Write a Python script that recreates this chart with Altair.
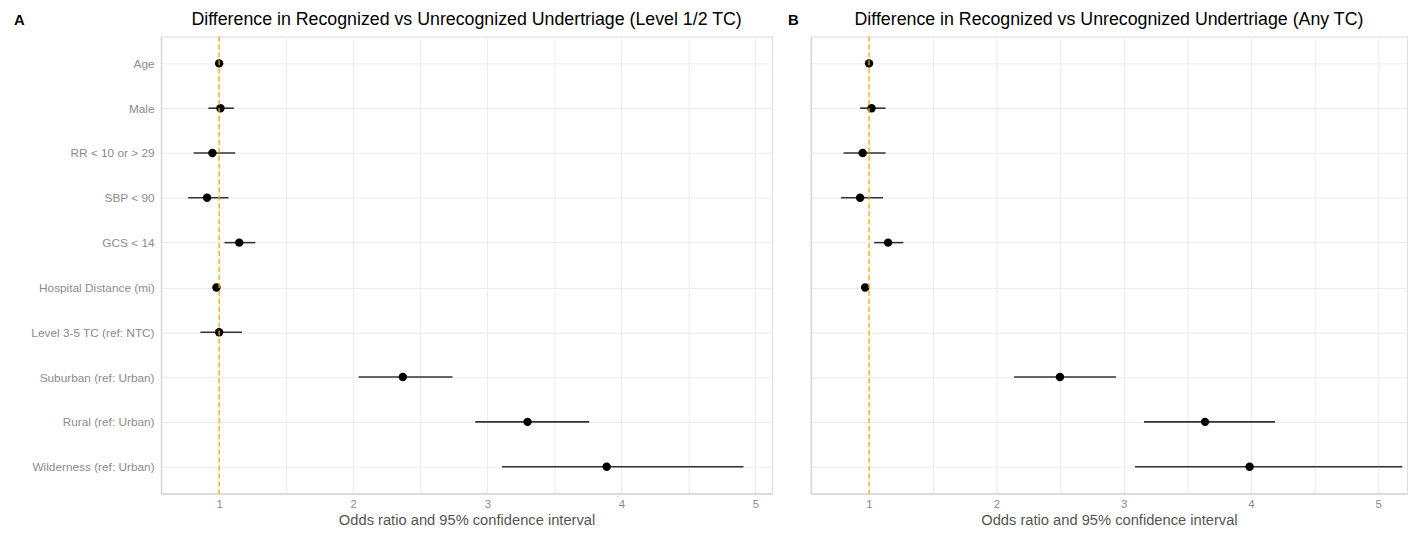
import altair as alt
import pandas as pd

labels = ["Age", "Male", "RR < 10 or > 29", "SBP < 90", "GCS < 14",
          "Hospital Distance (mi)", "Level 3-5 TC (ref: NTC)",
          "Suburban (ref: Urban)", "Rural (ref: Urban)", "Wilderness (ref: Urban)"]

a_or = [1.00, 1.01, 0.95, 0.91, 1.15, 0.98, 1.00, 2.37, 3.30, 3.89]
a_lo = [0.99, 0.92, 0.81, 0.77, 1.04, 0.97, 0.86, 2.04, 2.91, 3.11]
a_hi = [1.01, 1.11, 1.12, 1.07, 1.27, 0.99, 1.17, 2.74, 3.76, 4.91]

b_or = [1.00, 1.02, 0.95, 0.93, 1.15, 0.97, None, 2.50, 3.64, 3.99]
b_lo = [0.99, 0.93, 0.80, 0.78, 1.04, 0.96, None, 2.14, 3.16, 3.09]
b_hi = [1.01, 1.13, 1.13, 1.11, 1.27, 0.98, None, 2.94, 4.19, 5.19]

x_ticks = [1, 1.5, 2, 2.5, 3, 3.5, 4, 4.5, 5]

title_a = "Difference in Recognized vs Unrecognized Undertriage (Level 1/2 TC)"
title_b = "Difference in Recognized vs Unrecognized Undertriage (Any TC)"
x_title = "Odds ratio and 95% confidence interval"

FONT = "Liberation Sans"


def panel(orv, lo, hi, letter, title, domain, width, show_labels):
    df = pd.DataFrame({"term": labels, "or": orv, "lo": lo, "hi": hi}).dropna()
    base = alt.Chart(df)
    xscale = alt.Scale(domain=domain, nice=False, zero=False)
    yenc = alt.Y("term:N", sort=labels,
                 scale=alt.Scale(domain=labels, type="point", padding=0.6),
                 axis=alt.Axis(title=None, labels=show_labels, ticks=False, tickSize=0,
                               labelPadding=7, labelFontSize=11.9, labelColor="#8C8C8C",
                               labelFont=FONT, grid=True, gridColor="#EBEBEB",
                               domain=True, domainColor="#D6D6D6", domainWidth=1.5))
    xaxis = alt.Axis(title=x_title, values=x_ticks,
                     labelExpr="datum.value % 1 === 0 ? format(datum.value, 'd') : ''",
                     ticks=False, tickSize=0, labelPadding=5, labelFontSize=11.5,
                     labelColor="#8C8C8C", labelFont=FONT, titleFont=FONT,
                     titleFontSize=14.8, titleFontWeight="normal", titleColor="#555555",
                     titlePadding=3, grid=True, gridColor="#EBEBEB",
                     domain=True, domainColor="#D6D6D6", domainWidth=1.5)
    bars = base.mark_rule(color="#333333", strokeWidth=1.6).encode(
        x=alt.X("lo:Q", scale=xscale, axis=xaxis), x2="hi:Q", y=yenc)
    pts = base.mark_circle(color="black", opacity=1, size=72).encode(
        x=alt.X("or:Q", scale=xscale), y=alt.Y("term:N", sort=labels))
    ref = alt.Chart(pd.DataFrame({"ref": [1.0]})).mark_rule(
        color="#FFA500", strokeDash=[5, 3], strokeWidth=1.3).encode(
        x=alt.X("ref:Q", scale=xscale))
    tag = alt.Chart(pd.DataFrame({"p": [letter]})).mark_text(
        font=FONT, fontSize=15, fontWeight="bold", color="black",
        align="left", baseline="middle").encode(
        text="p:N", x=alt.value(-148 if show_labels else -23), y=alt.value(-17))
    ttl = alt.Chart(pd.DataFrame({"t": [title]})).mark_text(
        font=FONT, fontSize=17.9, color="black", align="center",
        baseline="middle").encode(
        text="t:N", x=alt.value(width / 2), y=alt.value(-17))
    return alt.layer(bars, pts, ref, tag, ttl).properties(width=width, height=460)


pa = panel(a_or, a_lo, a_hi, "A", title_a, [0.5667, 5.1237], 615, True)
pb = panel(b_or, b_lo, b_hi, "B", title_b, [0.543, 5.227], 600, False)

chart = alt.hconcat(pa, pb, spacing=14).configure_view(stroke=None).configure(
    padding={"left": 5, "top": 0, "right": 5, "bottom": 0}, background="white")

chart.save("out.html", embed_options={"renderer": "svg", "actions": False})
